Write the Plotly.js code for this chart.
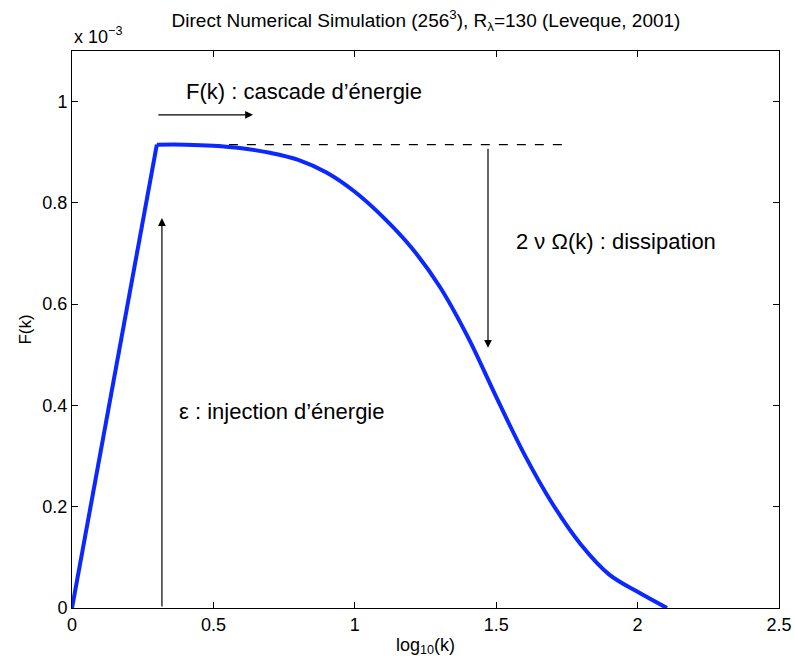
<!DOCTYPE html>
<html><head><meta charset="utf-8">
<script src="https://cdn.plot.ly/plotly-3.0.1.min.js"></script>
<style>body{margin:0;background:#fff}</style>
</head><body><div id="chart" style="width:795px;height:659px"></div>
<script>
// log10(k) and F(k) in units of 1e-3
const logk = [0, 0.30, 0.40, 0.50, 0.60, 0.70, 0.80, 0.90, 1.00, 1.10, 1.20, 1.30, 1.40, 1.50, 1.60, 1.70, 1.80, 1.90, 2.00, 2.104];
const Fk   = [0, 0.915, 0.915, 0.913, 0.908, 0.899, 0.885, 0.860, 0.822, 0.772, 0.712, 0.635, 0.535, 0.417, 0.303, 0.205, 0.125, 0.066, 0.032, 0.0];
const peakIndex = 1;
const dashX = [0.30, 1.76];
const dashY = [0.915, 0.915];
const xTicks = [0, 0.5, 1, 1.5, 2, 2.5];
const xTickText = ["0", "0.5", "1", "1.5", "2", "2.5"];
const yTicks = [0, 0.2, 0.4, 0.6, 0.8, 1];
const yTickText = ["0", "0.2", "0.4", "0.6", "0.8", "1"];

const font = "Liberation Sans, Arial, sans-serif";
const blue = "#0a28ff";
const traces = [
  {x: dashX, y: dashY, mode: "lines", line: {color: "#000", width: 1.2, dash: "dash"}, hoverinfo: "skip"},
  {x: logk.slice(0, peakIndex + 1), y: Fk.slice(0, peakIndex + 1), mode: "lines", line: {color: blue, width: 4}, hoverinfo: "skip"},
  {x: logk.slice(peakIndex), y: Fk.slice(peakIndex), mode: "lines", line: {color: blue, width: 4, shape: "spline", smoothing: 1}, hoverinfo: "skip"}
];
const arrow = (x0, y0, x1, y1) => ({x: x1, y: y1, ax: x0, ay: y0, xref: "x", yref: "y", axref: "x", ayref: "y",
  showarrow: true, arrowhead: 2, arrowsize: 1.3, arrowwidth: 1.2, arrowcolor: "#000", text: ""});
const layout = {
  width: 795, height: 659,
  margin: {l: 72, r: 16, t: 51, b: 51},
  paper_bgcolor: "#fff", plot_bgcolor: "#fff",
  showlegend: false,
  font: {family: font, size: 18, color: "#000"},
  title: {text: "Direct Numerical Simulation (256<sup>3</sup>), R<sub>λ</sub>=130 (Leveque, 2001)",
          font: {family: font, size: 19, color: "#000"}, x: 426 / 795, xanchor: "center", xref: "container", y: 1 - 20 / 659, yanchor: "middle"},
  xaxis: {range: [0, 2.5], tickvals: xTicks, ticktext: xTickText, ticks: "inside", ticklen: 6, tickcolor: "#000",
          showline: true, linecolor: "#000", linewidth: 1, mirror: "ticks", showgrid: false, zeroline: false,
          tickfont: {size: 18}, title: {text: "log<sub>10</sub>(k)", font: {size: 18}, standoff: 4}},
  yaxis: {range: [0, 1.1], tickvals: yTicks, ticktext: yTickText, ticks: "inside", ticklen: 6, tickcolor: "#000",
          showline: true, linecolor: "#000", linewidth: 1, mirror: "ticks", showgrid: false, zeroline: false,
          tickfont: {size: 18}, title: {text: "F(k)", font: {size: 17}, standoff: 6}},
  annotations: [
    {text: "x 10<sup>−3</sup>", xref: "paper", yref: "paper", x: 0, y: 1.003, xanchor: "left", yanchor: "bottom", showarrow: false, font: {size: 18}},
    {text: "F(k) : cascade d’énergie", xref: "x", yref: "y", x: 0.396, y: 1.02, xanchor: "left", yanchor: "middle", showarrow: false, font: {size: 22}},
    {text: "2 ν Ω(k) : dissipation", xref: "x", yref: "y", x: 1.563, y: 0.723, xanchor: "left", yanchor: "middle", showarrow: false, font: {size: 22}},
    {text: "ε : injection d’énergie", xref: "x", yref: "y", x: 0.371, y: 0.389, xanchor: "left", yanchor: "middle", showarrow: false, font: {size: 22}},
    arrow(0.30, 0.974, 0.64, 0.974),
    arrow(0.318, 0.0, 0.318, 0.77),
    arrow(1.471, 0.91, 1.471, 0.514)
  ]
};
Plotly.newPlot("chart", traces, layout, {displayModeBar: false, staticPlot: true});
</script></body></html>
